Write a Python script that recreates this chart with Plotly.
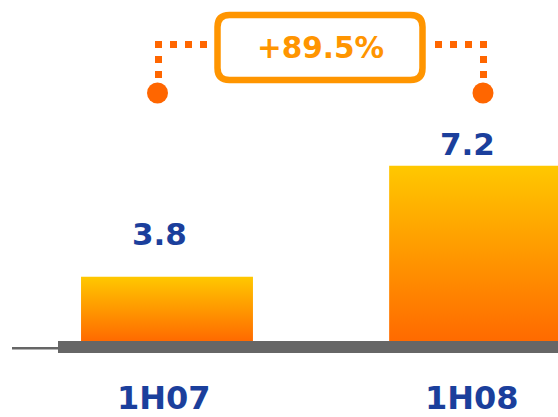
import plotly.graph_objects as go

# ---- data ----
categories = ["1H07", "1H08"]
values = [3.8, 7.2]
value_labels = ["3.8", "7.2"]
change_label = "+89.5%"

# ---- style / layout constants ----
W, H = 558, 417
BASE = 1.83             # value at the visual baseline (chart is not zero-based)
HALF_W = 0.279          # half bar width in category units
Y_RANGE = [-0.498, 12.277]
X_RANGE = [-0.542, 1.269]
LABEL_SHIFT = [42.5, 21.5]  # px above bar top for value labels (centre)
BLUE = "#1B3F9C"
ORANGE = "#FF9500"
DOT_ORANGE = "#FF6600"
GREY = "#666666"
FONT = "DejaVu Sans"


def px(x):
    """pixel x -> paper coordinate"""
    return x / W


def py(y):
    """pixel y -> paper coordinate"""
    return 1 - y / H


fig = go.Figure()

for i, (cat, v) in enumerate(zip(categories, values)):
    fig.add_trace(go.Scatter(
        x=[i - HALF_W, i + HALF_W, i + HALF_W, i - HALF_W, i - HALF_W],
        y=[BASE, BASE, v, v, BASE],
        mode="lines",
        line=dict(width=0, color="rgba(0,0,0,0)"),
        fill="toself",
        fillgradient=dict(
            type="vertical",
            colorscale=[[0, "#FF6A00"], [0.75, "#FFB000"], [1, "#FFC800"]],
        ),
        hoverinfo="skip",
        showlegend=False,
        name=cat,
    ))

annotations = []
for i, (lab, v) in enumerate(zip(value_labels, values)):
    annotations.append(dict(
        x=i, y=v, xref="x", yref="y", text=f"<b>{lab}</b>", showarrow=False,
        xanchor="center", yanchor="middle", yshift=LABEL_SHIFT[i], xshift=-8,
        font=dict(family=FONT, size=31, color=BLUE),
    ))
for i, cat in enumerate(categories):
    annotations.append(dict(
        x=i, y=py(398), xref="x", yref="paper", text=f"<b>{cat}</b>",
        showarrow=False, xanchor="center", yanchor="middle", xshift=-3,
        borderpad=0,
        font=dict(family=FONT, size=32, color=BLUE),
    ))
annotations.append(dict(
    x=px(320), y=py(48.5), xref="paper", yref="paper",
    text=f"<b>{change_label}</b>", showarrow=False,
    xanchor="center", yanchor="middle",
    font=dict(family=FONT, size=29.5, color=ORANGE),
))

shapes = []
# baseline
shapes.append(dict(type="rect", xref="paper", yref="paper",
                   x0=px(58), x1=px(560), y0=py(353), y1=py(341),
                   fillcolor=GREY, line=dict(width=0), layer="above"))
shapes.append(dict(type="line", xref="paper", yref="paper",
                   x0=px(12), x1=px(58), y0=py(348.3), y1=py(348.3),
                   line=dict(color=GREY, width=2.5)))

# rounded box
x0, x1, y0, y1, r = 217.5, 422.5, 15, 80, 12
path = (
    f"M {px(x0 + r)},{py(y0)} L {px(x1 - r)},{py(y0)} "
    f"Q {px(x1)},{py(y0)} {px(x1)},{py(y0 + r)} "
    f"L {px(x1)},{py(y1 - r)} Q {px(x1)},{py(y1)} {px(x1 - r)},{py(y1)} "
    f"L {px(x0 + r)},{py(y1)} Q {px(x0)},{py(y1)} {px(x0)},{py(y1 - r)} "
    f"L {px(x0)},{py(y0 + r)} Q {px(x0)},{py(y0)} {px(x0 + r)},{py(y0)} Z"
)
shapes.append(dict(type="path", xref="paper", yref="paper", path=path,
                   line=dict(color=ORANGE, width=6.5), fillcolor="rgba(0,0,0,0)"))

# dotted connectors
dot = dict(color=DOT_ORANGE, width=7, dash="7px,8px")
shapes.append(dict(type="line", xref="paper", yref="paper",
                   x0=px(155), x1=px(214), y0=py(44.5), y1=py(44.5), line=dot))
shapes.append(dict(type="line", xref="paper", yref="paper",
                   x0=px(158.5), x1=px(158.5), y0=py(41), y1=py(85), line=dot))
shapes.append(dict(type="line", xref="paper", yref="paper",
                   x0=px(487), x1=px(427), y0=py(44.5), y1=py(44.5), line=dot))
shapes.append(dict(type="line", xref="paper", yref="paper",
                   x0=px(483.5), x1=px(483.5), y0=py(41), y1=py(85), line=dot))

# end dots
for cx in (157.5, 483):
    rr = 10.5
    shapes.append(dict(type="circle", xref="paper", yref="paper",
                       x0=px(cx - rr), x1=px(cx + rr), y0=py(93 + rr), y1=py(93 - rr),
                       fillcolor=DOT_ORANGE, line=dict(width=0)))

fig.update_layout(
    width=W, height=H,
    margin=dict(l=0, r=0, t=0, b=0),
    paper_bgcolor="white", plot_bgcolor="white",
    xaxis=dict(range=X_RANGE, visible=False, fixedrange=True),
    yaxis=dict(range=Y_RANGE, visible=False, fixedrange=True),
    annotations=annotations, shapes=shapes,
    showlegend=False,
)

fig.write_html(
    "out.html",
    config={"displayModeBar": False, "staticPlot": True},
    post_script="document.body.style.margin='0';"
                "document.documentElement.style.overflow='hidden';",
)
